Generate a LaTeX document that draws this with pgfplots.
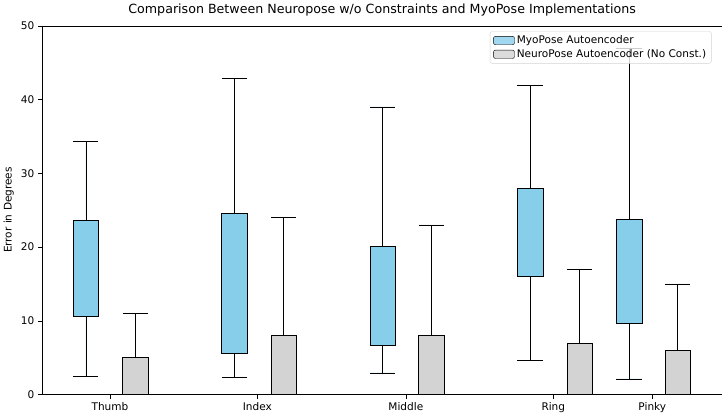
\documentclass[border=0pt]{standalone}
\usepackage{pgfplots}
\pgfplotsset{compat=1.18}
\usepgfplotslibrary{statistics}
\usepackage{fontspec}
\setmainfont{DejaVu Sans}
\definecolor{sky}{HTML}{87CEEB}
\definecolor{lgray}{HTML}{D3D3D3}
\begin{document}
\begin{tikzpicture}
\begin{axis}[
  scale only axis, width=645pt, height=350pt,
  xmin=0, xmax=645, ymin=0, ymax=50,
  xtick={64,204,345,485,579},
  xticklabels={Thumb,Index,Middle,Ring,Pinky},
  ytick={0,10,20,30,40,50},
  xtick pos=bottom, ytick pos=left,
  tick label style={font=\fontsize{10}{12}\selectfont},
  /pgf/number format/assume math mode=true,
  ylabel={Error in Degrees}, ylabel style={font=\fontsize{10}{12}\selectfont},
  title={Comparison Between Neuropose w/o Constraints and MyoPose Implementations},
  title style={font=\fontsize{12}{14}\selectfont},
  tick align=outside, xtick style={black}, ytick style={black},
  boxplot/draw direction=y,
  boxplot/box extend=24,
  boxplot/whisker extend=24,
  legend style={at={(0.985,0.985)},anchor=north east,font=\fontsize{10}{12}\selectfont,draw=lgray,fill=white,fill opacity=0.8,text opacity=1,rounded corners=2pt},
  legend cell align=left,
  legend image code/.code={\fill[#1] (0pt,-4pt) rectangle (20pt,4pt);},
]
\addlegendimage{fill=sky}
\addlegendentry{MyoPose Autoencoder}
\addlegendimage{fill=lgray}
\addlegendentry{NeuroPose Autoencoder (No Const.)}
% blue
\addplot+[boxplot prepared={draw position=41,lower whisker=2.4,lower quartile=10.6,median=10.6,upper quartile=23.6,upper whisker=34.3},fill=sky,draw=black,solid,mark=none] coordinates {};
\addplot+[boxplot prepared={draw position=182,lower whisker=2.3,lower quartile=5.6,median=5.6,upper quartile=24.6,upper whisker=42.9},fill=sky,draw=black,solid,mark=none] coordinates {};
\addplot+[boxplot prepared={draw position=323,lower whisker=2.9,lower quartile=6.6,median=6.6,upper quartile=20.1,upper whisker=39.0},fill=sky,draw=black,solid,mark=none] coordinates {};
\addplot+[boxplot prepared={draw position=463,lower whisker=4.6,lower quartile=16.0,median=16.0,upper quartile=27.9,upper whisker=41.9},fill=sky,draw=black,solid,mark=none] coordinates {};
\addplot+[boxplot prepared={draw position=557,lower whisker=2.1,lower quartile=9.7,median=9.7,upper quartile=23.7,upper whisker=46.9},fill=sky,draw=black,solid,mark=none] coordinates {};
% gray
\addplot+[boxplot prepared={draw position=88,lower whisker=1,lower quartile=0,median=0,upper quartile=5,upper whisker=11},fill=lgray,draw=black,solid,mark=none] coordinates {};
\addplot+[boxplot prepared={draw position=229,lower whisker=2,lower quartile=0,median=0,upper quartile=8,upper whisker=24},fill=lgray,draw=black,solid,mark=none] coordinates {};
\addplot+[boxplot prepared={draw position=369,lower whisker=2,lower quartile=0,median=0,upper quartile=8,upper whisker=23},fill=lgray,draw=black,solid,mark=none] coordinates {};
\addplot+[boxplot prepared={draw position=510,lower whisker=2,lower quartile=0,median=0,upper quartile=7,upper whisker=17},fill=lgray,draw=black,solid,mark=none] coordinates {};
\addplot+[boxplot prepared={draw position=603,lower whisker=1,lower quartile=0,median=0,upper quartile=6,upper whisker=15},fill=lgray,draw=black,solid,mark=none] coordinates {};
\end{axis}
\end{tikzpicture}
\end{document}
